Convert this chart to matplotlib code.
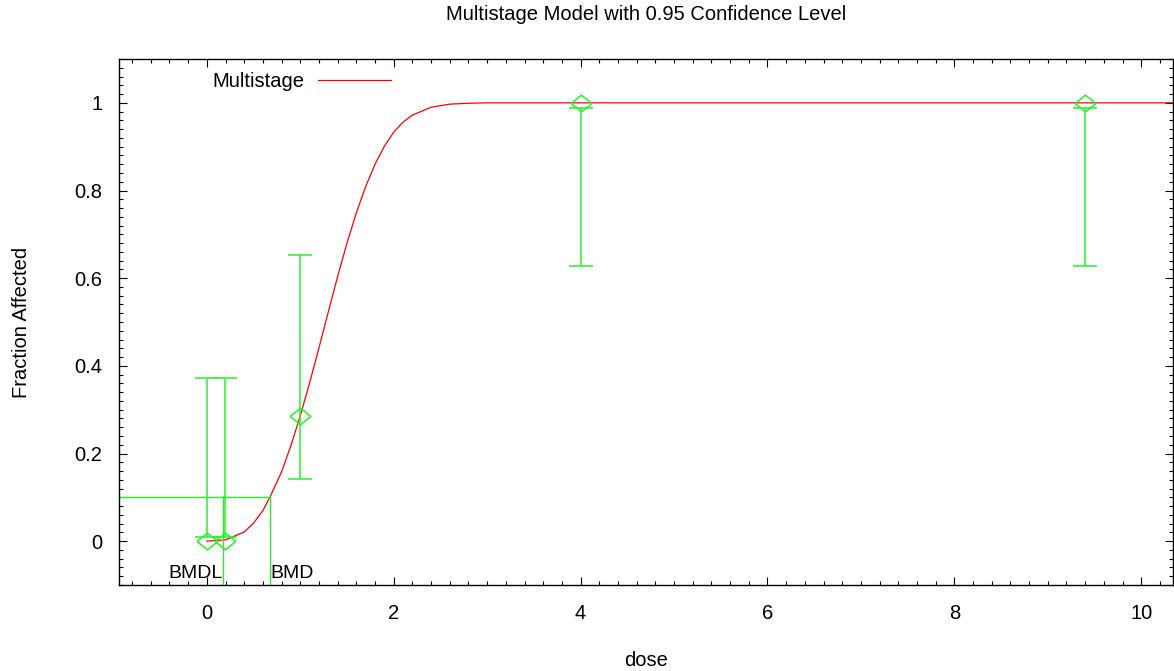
import numpy as np
import matplotlib
matplotlib.use("Agg")
import matplotlib.pyplot as plt
from matplotlib.ticker import MultipleLocator

plt.rcParams["font.family"] = ["Liberation Sans", "DejaVu Sans"]

# observed data (dose, fraction affected, 95% CI)
dose = [0.0, 0.19, 1.0, 4.0, 9.4]
frac = [0.0, 0.0, 0.286, 1.0, 1.0]
ci_low = [0.009, 0.009, 0.141, 0.628, 0.628]
ci_high = [0.372, 0.372, 0.653, 0.989, 0.989]

# fitted multistage curve
curve_dose = [0.0, 0.2, 0.4, 0.5, 0.6, 0.674, 0.8, 0.9, 1.0, 1.1, 1.2, 1.3, 1.4, 1.5,
              1.6, 1.7, 1.8, 1.9, 2.0, 2.1, 2.2, 2.4, 2.6, 2.8, 3.0, 10.34]
curve_frac = [0.0, 0.003, 0.021, 0.041, 0.070, 0.100, 0.158, 0.218, 0.286, 0.361, 0.441,
              0.523, 0.604, 0.680, 0.749, 0.809, 0.860, 0.901, 0.933, 0.956, 0.972,
              0.990, 0.997, 0.999, 1.0, 1.0]

bmr = 0.1
bmd = 0.674
bmdl = 0.168

green = "#2af02a"
red = "#ff0000"

fig = plt.figure(figsize=(11.74, 6.71), dpi=100)
ax = fig.add_axes([119 / 1174, 1 - 585 / 671, 1054 / 1174, 526 / 671])

ax.set_xlim(-0.94, 10.34)
ax.set_ylim(-0.1, 1.1)

ax.plot(curve_dose, curve_frac, color=red, lw=0.9, label="Multistage")

# error bars: the lower bound sits above the point for zero responses,
# so draw stems and caps by hand
ax.vlines(dose, ci_low, ci_high, color=green, lw=1.1)
ax.plot(dose, ci_low, linestyle="none", marker="_", ms=17, mew=1.1, color=green)
ax.plot(dose, ci_high, linestyle="none", marker="_", ms=17, mew=1.1, color=green)
diamond = [(-1, 0), (0, 0.8), (1, 0), (0, -0.8), (-1, 0)]
ax.plot(dose, frac, linestyle="none", marker=diamond, ms=15, mfc="none",
        mec=green, mew=1.1)

# BMD / BMDL markers
ax.plot([-0.94, bmd], [bmr, bmr], color=green, lw=1.0)
ax.plot([bmd, bmd], [bmr, -0.1], color=green, lw=1.0)
ax.plot([bmdl, bmdl], [bmr, -0.1], color=green, lw=1.0)
ax.text(bmdl, -0.085, "BMDL", ha="right", va="baseline", fontsize=14)
ax.text(bmd + 0.01, -0.085, "BMD", ha="left", va="baseline", fontsize=14)

ax.xaxis.set_major_locator(MultipleLocator(2))
ax.xaxis.set_minor_locator(MultipleLocator(0.2))
ax.yaxis.set_major_locator(MultipleLocator(0.2))
ax.yaxis.set_minor_locator(MultipleLocator(0.02))
ax.set_yticks([0, 0.2, 0.4, 0.6, 0.8, 1.0])
ax.set_yticklabels(["0", "0.2", "0.4", "0.6", "0.8", "1"])
ax.tick_params(which="both", direction="in", top=True, right=True, width=0.8,
               labelsize=14.5)
ax.tick_params(which="major", length=6)
ax.tick_params(which="minor", length=3)
ax.tick_params(axis="x", which="major", pad=14)
ax.tick_params(axis="y", which="major", pad=12)
for s in ax.spines.values():
    s.set_linewidth(1.0)

ax.set_xlabel("dose", fontsize=14.5, labelpad=20)
ax.set_ylabel("Fraction Affected", fontsize=14.5, labelpad=31)

leg = ax.legend(loc="upper left", bbox_to_anchor=(0.073, 1.005), frameon=False,
                fontsize=14.5, markerfirst=False, handlelength=3.6, handletextpad=0.7,
                borderaxespad=0.4)

fig.text(646 / 1174, 1 - 15 / 671, "Multistage Model with 0.95 Confidence Level",
         ha="center", va="center", fontsize=14.5)

fig.savefig("out.png", dpi=100)
